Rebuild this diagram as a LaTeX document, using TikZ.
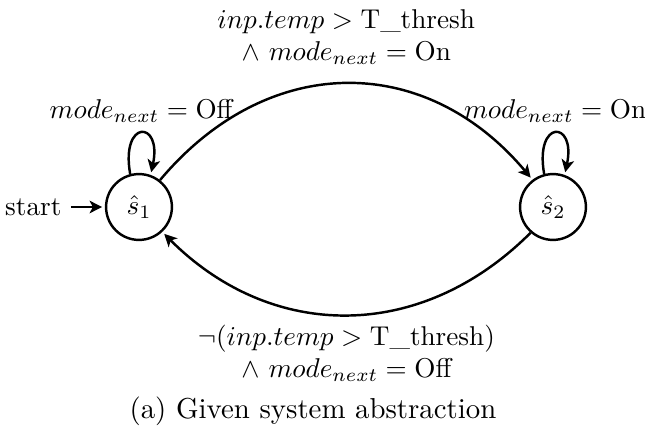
\documentclass[tikz,border=0pt]{standalone}
\usepackage{amsmath}
\usetikzlibrary{arrows.meta}
\begin{document}
\begin{tikzpicture}[x=0.3676pt,y=0.3676pt,
  state/.style={circle,draw,line width=0.9pt,minimum size=24.2pt,inner sep=0pt},
  trans/.style={line width=0.9pt,-{Stealth[length=4.6pt,width=4.6pt,inset=1.2pt]},shorten >=1pt},
  lbl/.style={align=center}]
\useasboundingbox (0,0) rectangle (645,438);
\node[state] (s1) at (139,231) {$\hat{s}_1$};
\node[state] (s2) at (553,231) {$\hat{s}_2$};
\node[anchor=east] (start) at (71,231) {start};
\draw[trans] (start) -- (s1);
\draw[trans] (s1.52) .. controls +(50:167) and +(130:167) .. (s2.127)
  node[midway,above=3.2pt,lbl] (l12) {$inp.temp > \text{T\_thresh}$\\$\land$ $mode_{next} = \text{On}$};
\draw[trans] (s2.-131) .. controls +(-135:155) and +(-45:155) .. (s1.-47)
  node[midway,below,lbl] (l21) {$\neg(inp.temp > \text{T\_thresh})$\\$\land$ $mode_{next} = \text{Off}$};
\draw[trans] (s1.105) .. controls +(100:56) and +(78:56) .. (s1.70)
  node[midway,above] (ll1) {$mode_{next} = \text{Off}$};
\draw[trans] (s2.105) .. controls +(100:56) and +(78:56) .. (s2.70)
  node[midway,above] (ll2) {$mode_{next} = \text{On}$};
\node[font=\fontsize{10.6}{12.7}\selectfont] (cap) at (313,27) {(a) Given system abstraction};
\end{tikzpicture}
\end{document}
